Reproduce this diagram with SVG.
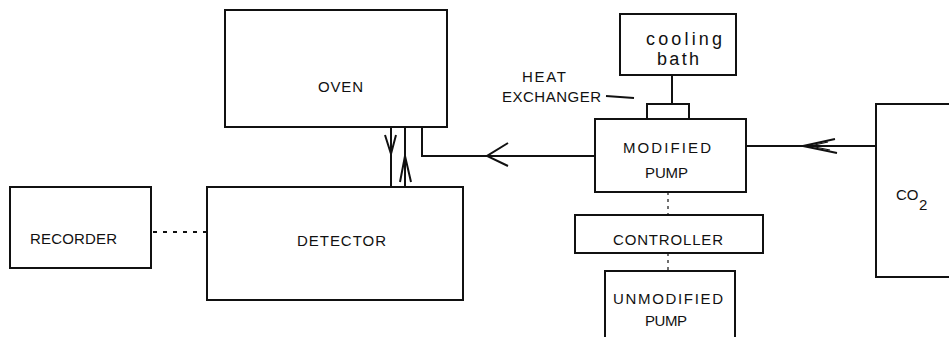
<svg xmlns="http://www.w3.org/2000/svg" width="949" height="337" viewBox="0 0 949 337">
<style>
.box{fill:none;stroke:#111;stroke-width:2}
.ln{fill:none;stroke:#111;stroke-width:2}
.thin{fill:none;stroke:#111;stroke-width:1.2}
.dot{fill:none;stroke:#111;stroke-width:2;stroke-dasharray:4 6}
text{font-family:"Liberation Sans",Arial,sans-serif;font-size:15px;fill:#111}
.lc{font-size:18px}
</style>
<rect width="949" height="337" fill="#fff"/>
<g id="oven"><rect class="box" x="225" y="10" width="222" height="117"/><text x="318" y="92" textLength="45" lengthAdjust="spacing">OVEN</text></g>
<g id="detector"><rect class="box" x="207" y="187" width="256" height="113"/><text x="297" y="246" textLength="89" lengthAdjust="spacing">DETECTOR</text></g>
<g id="recorder"><rect class="box" x="10" y="187" width="141" height="81"/><text x="30" y="244" textLength="87" lengthAdjust="spacing">RECORDER</text></g>
<g id="cooling-bath"><rect class="box" x="620" y="14" width="116" height="61"/><text class="lc" x="646" y="45" textLength="76" lengthAdjust="spacing">cooling</text><text class="lc" x="657" y="65" textLength="42" lengthAdjust="spacing">bath</text></g>
<g id="heat-exchanger"><rect class="box" x="647" y="104" width="42" height="15"/><text x="522" y="82" textLength="44" lengthAdjust="spacing">HEAT</text><text x="502" y="102" textLength="99" lengthAdjust="spacing">EXCHANGER</text></g>
<g id="modified-pump"><rect class="box" x="595" y="119" width="151" height="73"/><text x="623" y="153" textLength="88" lengthAdjust="spacing">MODIFIED</text><text x="645" y="178" textLength="43" lengthAdjust="spacing">PUMP</text></g>
<g id="controller"><rect class="box" x="575" y="215" width="188" height="38"/><text x="613" y="245" textLength="110" lengthAdjust="spacing">CONTROLLER</text></g>
<g id="unmodified-pump"><path class="box" d="M605,340 V271 H735 V340"/><text x="613" y="304" textLength="110" lengthAdjust="spacing">UNMODIFIED</text><text x="645" y="326" textLength="42" lengthAdjust="spacing">PUMP</text></g>
<g id="co2"><path class="box" d="M952,104 H876 V277 H952"/><text x="896" y="200">CO</text><text x="919" y="210" font-size="14">2</text></g>
<g id="connectors">
<line class="ln" x1="391" y1="127" x2="391" y2="187"/>
<polyline class="ln" points="385,135 391,154 396,135"/>
<line class="ln" x1="405" y1="127" x2="405" y2="187"/>
<polyline class="ln" points="400,182 405,156 411,182"/>
<polyline class="ln" points="422,127 422,156 595,156"/>
<polyline class="ln" points="508,143 487,156 508,166"/>
<line class="ln" x1="746" y1="146" x2="876" y2="146"/>
<polyline class="ln" points="835,139 803,146 837,153"/>
<polyline class="thin" points="828,142 810,146 830,150"/>
<line class="ln" x1="672" y1="75" x2="672" y2="104"/>
<line class="ln" x1="606" y1="96" x2="634" y2="98"/>
<line class="dot" x1="153" y1="232" x2="207" y2="232"/>
<line class="thin" x1="668" y1="192" x2="668" y2="215" stroke-dasharray="3 4"/>
<line class="thin" x1="668" y1="253" x2="668" y2="271" stroke-dasharray="3 4"/>
</g>
</svg>
